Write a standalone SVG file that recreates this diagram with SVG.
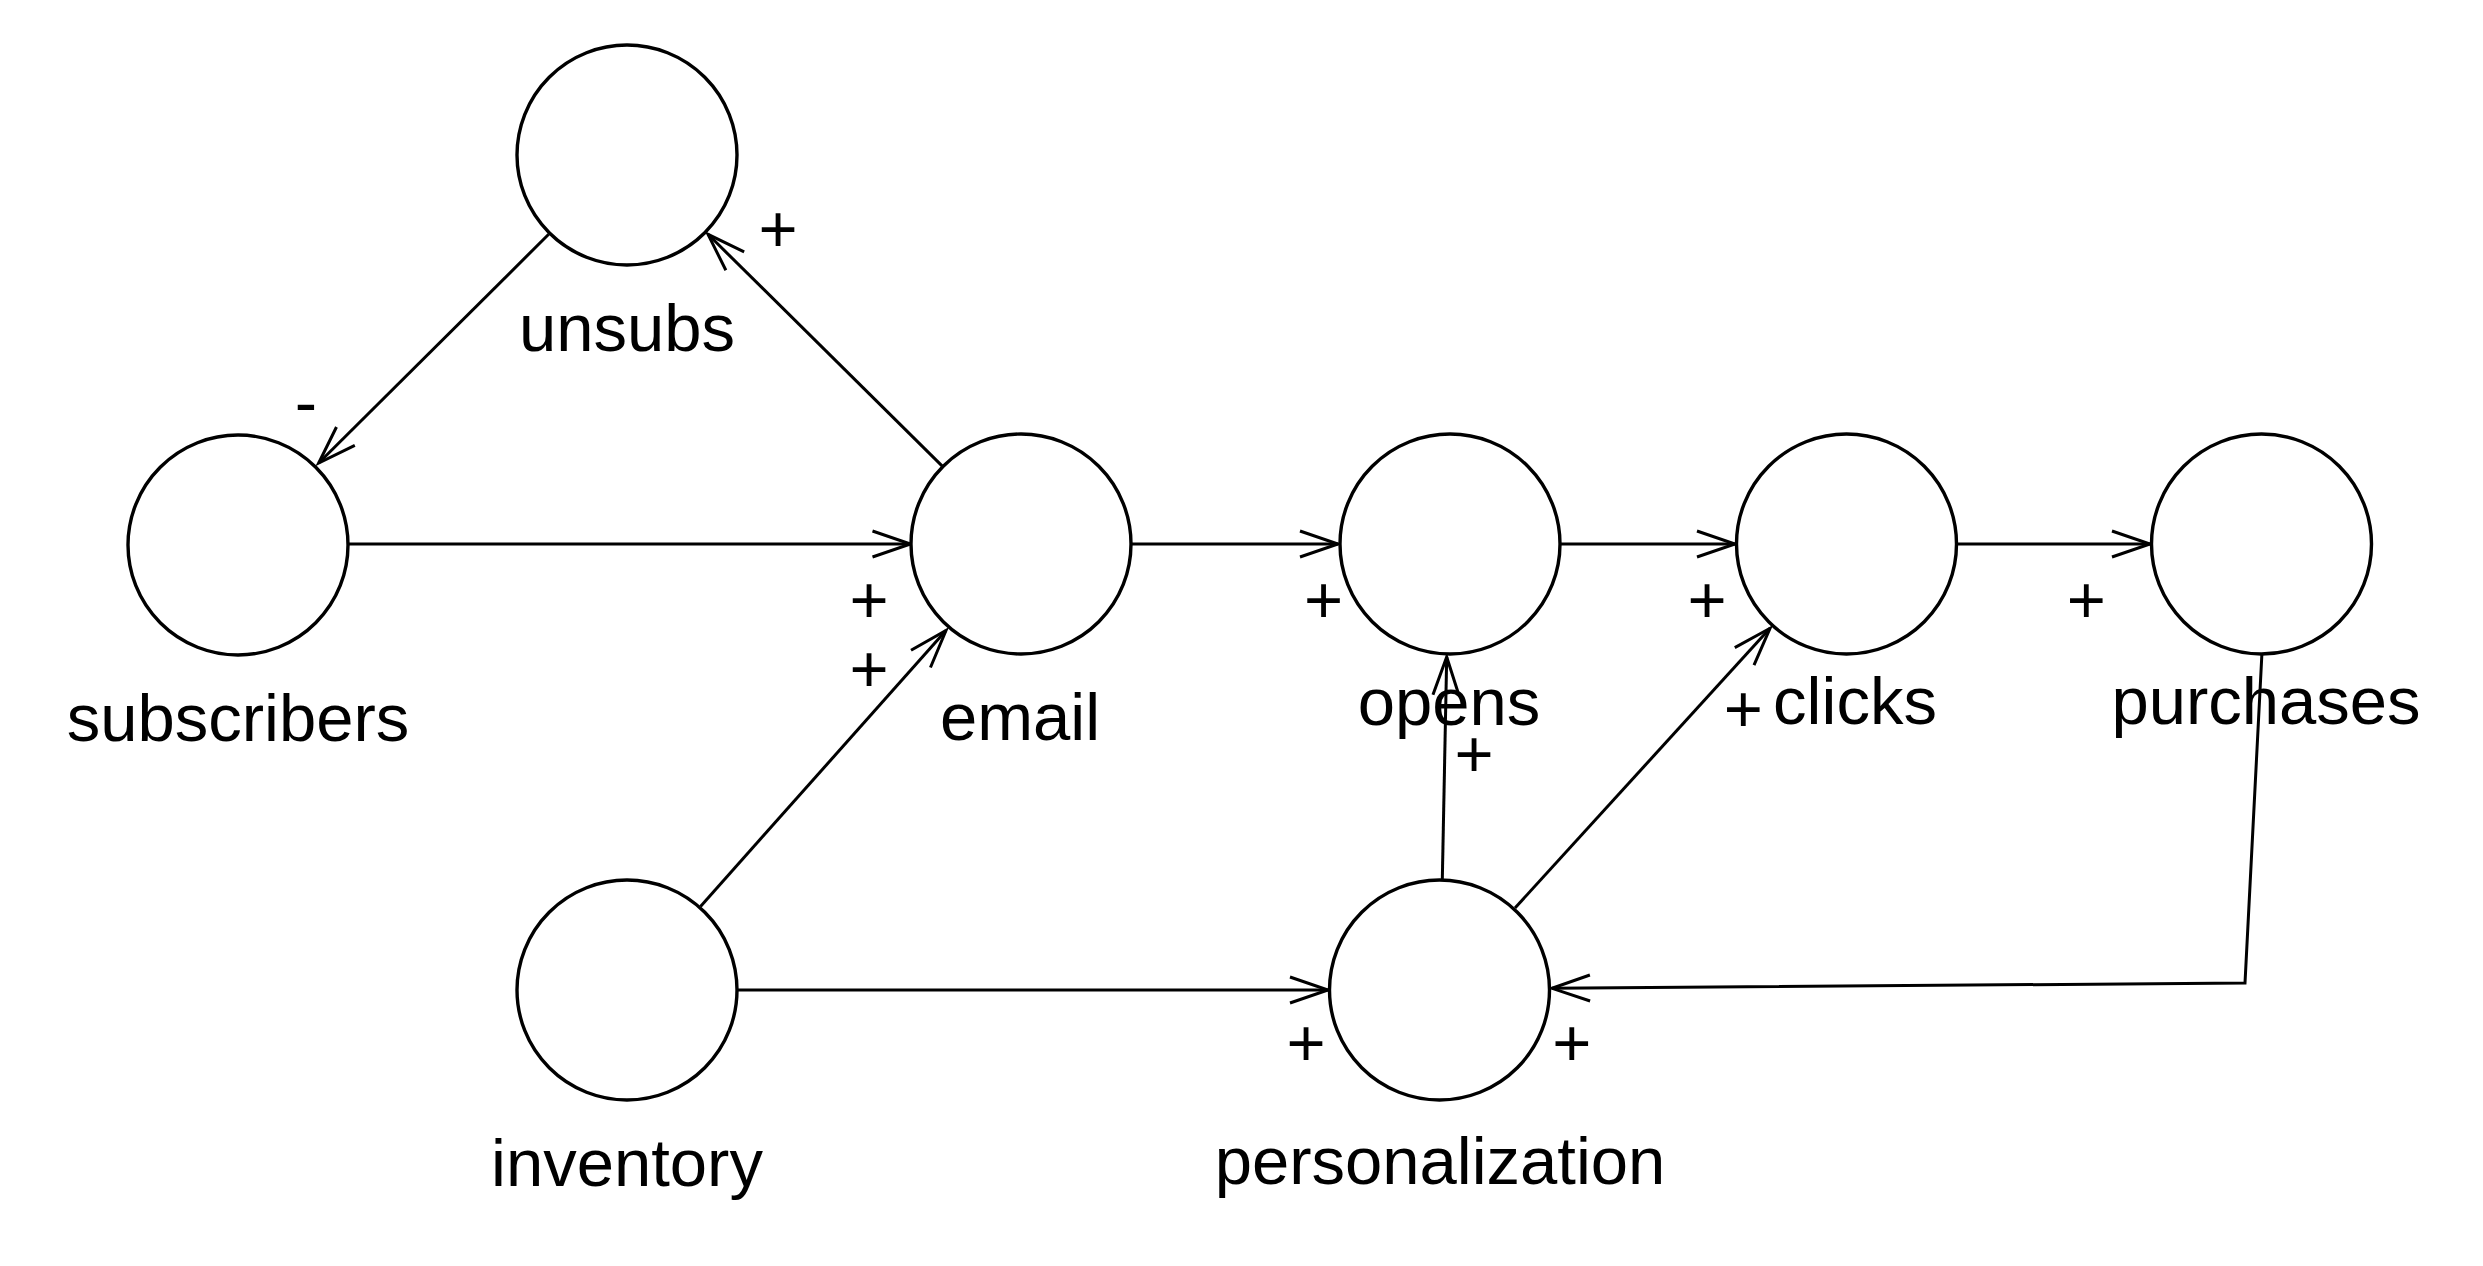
<svg xmlns="http://www.w3.org/2000/svg" width="2483" height="1266" viewBox="0 0 2483 1266">
<style>
.node{fill:#fff;stroke:#000;stroke-width:3.4}
.lbl{font-family:"Liberation Sans",Arial,Helvetica,sans-serif;font-size:67px;fill:#000;text-anchor:middle}
.edge{fill:none;stroke:#000;stroke-width:3;marker-end:url(#arr)}
</style>
<defs>
<marker id="arr" markerUnits="userSpaceOnUse" markerWidth="60" markerHeight="40" viewBox="-45 -20 50 40" refX="0" refY="0" orient="auto" overflow="visible">
<path d="M-38,-13 L0,0 L-38,13" fill="none" stroke="#000" stroke-width="3"/>
</marker>
</defs>
<rect width="2483" height="1266" fill="#fff"/>
<g id="connectors">
<path class="edge" d="M548.7,234.3 L318.7,463"/>
<path class="edge" d="M942.8,466.6 L708,234.3"/>
<path class="edge" d="M348,544 L910.5,544"/>
<path class="edge" d="M1131,544 L1338,544"/>
<path class="edge" d="M1560,544 L1735,544"/>
<path class="edge" d="M1956.5,544 L2150,544"/>
<path class="edge" d="M700.5,906.5 L946,630.5"/>
<path class="edge" d="M737,990 L1328,990"/>
<path class="edge" d="M1442.3,880 L1446.7,657"/>
<path class="edge" d="M1515,908 L1770,628.3"/>
<path class="edge" d="M2261.9,654 L2245,983 L1552,988.3"/>
<g class="lbl">
<text x="778" y="252">+</text>
<text x="306" y="425">-</text>
<text x="869" y="622.5">+</text>
<text x="869" y="691.5">+</text>
<text x="1323.5" y="623">+</text>
<text x="1707" y="623">+</text>
<text x="2086.3" y="623">+</text>
<text x="1474" y="777">+</text>
<text x="1743.3" y="732">+</text>
<text x="1306" y="1065.5">+</text>
<text x="1571.7" y="1065.5">+</text>
</g>
</g>
<g id="unsubs"><circle class="node" cx="627" cy="155" r="110"/><text class="lbl" x="627" y="351">unsubs</text></g>
<g id="subscribers"><circle class="node" cx="238" cy="545" r="110"/><text class="lbl" x="238" y="741">subscribers</text></g>
<g id="email"><circle class="node" cx="1021" cy="544" r="110"/><text class="lbl" x="1020" y="740">email</text></g>
<g id="opens"><circle class="node" cx="1450" cy="544" r="110"/><text class="lbl" x="1449" y="725">opens</text></g>
<g id="clicks"><circle class="node" cx="1846.5" cy="544" r="110"/><text class="lbl" x="1855" y="724">clicks</text></g>
<g id="purchases"><circle class="node" cx="2261.5" cy="544" r="110"/><text class="lbl" x="2266" y="724">purchases</text></g>
<g id="inventory"><circle class="node" cx="627" cy="990" r="110"/><text class="lbl" x="627" y="1186">inventory</text></g>
<g id="personalization"><circle class="node" cx="1439.5" cy="990" r="110"/><text class="lbl" x="1440" y="1183.5">personalization</text></g>
</svg>
